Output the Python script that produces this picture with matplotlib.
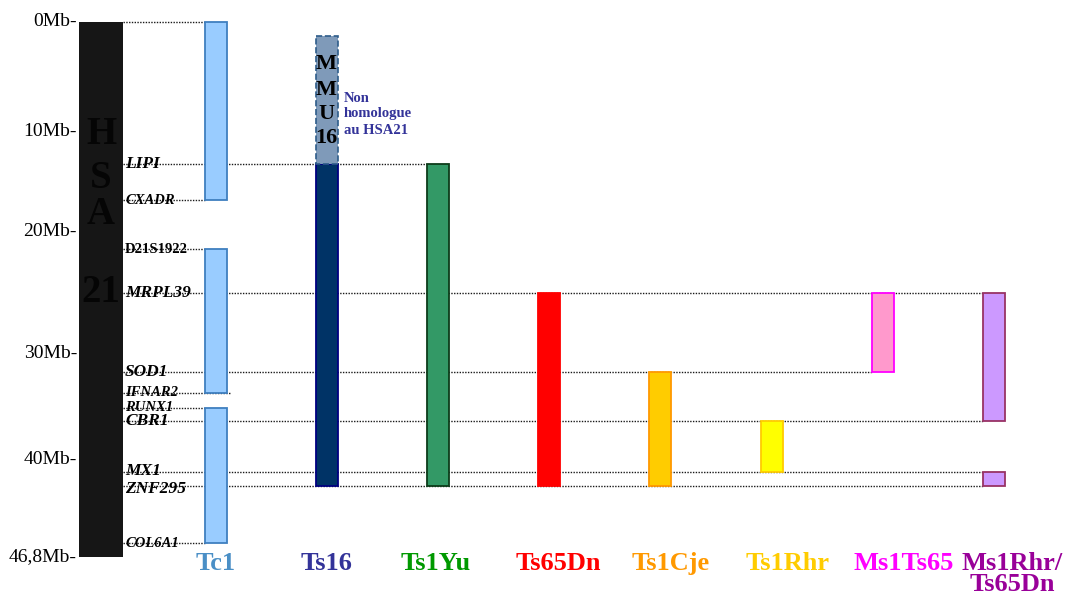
import numpy as np
import matplotlib
matplotlib.use("Agg")
import matplotlib.pyplot as plt
from matplotlib.transforms import blended_transform_factory, offset_copy

plt.rcParams["font.family"] = ["Liberation Serif", "DejaVu Serif"]

W, H = 1078, 599

# ruler of HSA21 (the drawing is not to scale, so keep where each tick sits)
tick_mb = [0, 10, 20, 30, 40, 46.8]
tick_labels = ["0Mb-", "10Mb-", "20Mb-", "30Mb-", "40Mb-", "46,8Mb-"]
tick_px = [22, 132, 232, 354, 459, 557]

# genes along HSA21
genes = ["LIPI", "CXADR", "D21S1922", "MRPL39", "SOD1", "IFNAR2",
         "RUNX1", "CBR1", "MX1", "ZNF295", "COL6A1"]
gene_mb = [13.2, 16.8, 21.4, 25.0, 31.7, 33.7, 35.1, 36.4, 40.9, 41.9, 45.85]
gene_big = [True, False, False, True, True, False, False, True, True, True, False]
gene_italic = [True, True, False, True, True, True, True, True, True, True, True]
gene_line_to = ["Ts1Yu", "Tc1", "Tc1", "Ms1Rhr", "Ms1Ts65", "Tc1>",
                "Tc1", "Ms1Rhr", "Ms1Rhr", "Ms1Rhr", "Tc1"]
gene_dy = [0, 0, 0, 0, 0, 0, 0, 0, 1, -2, 0]   # pt nudges of crowded labels

# mouse models and their trisomic segments (Mb on HSA21)
models = ["Tc1", "Ts16", "Ts1Yu", "Ts65Dn", "Ts1Cje", "Ts1Rhr", "Ms1Ts65", "Ms1Rhr"]
model_labels = ["Tc1", "Ts16", "Ts1Yu", "Ts65Dn", "Ts1Cje", "Ts1Rhr", "Ms1Ts65",
                "Ms1Rhr/\nTs65Dn"]
tc1_seg = [(0, 16.8), (21.4, 33.7), (35.1, 45.85)]
ts16_seg = [(13.2, 41.9)]
ts1yu_seg = [(13.2, 41.9)]
ts65dn_seg = [(25.0, 41.9)]
ts1cje_seg = [(31.7, 41.9)]
ts1rhr_seg = [(36.4, 40.9)]
ms1ts65_seg = [(25.0, 31.7)]
ms1rhr_seg = [(25.0, 36.4), (40.9, 41.9)]
segments = [tc1_seg, ts16_seg, ts1yu_seg, ts65dn_seg, ts1cje_seg,
            ts1rhr_seg, ms1ts65_seg, ms1rhr_seg]
mmu16_seg = (1.3, 13.2)

face_colors = ["#99ccff", "#003366", "#339966", "#ff0000", "#ffcc00",
               "#ffff00", "#ff99cc", "#cc99ff"]
edge_colors = ["#3f7fbf", "#000080", "#0d3d1a", "#ff0000", "#ff9900",
               "#ffcc00", "#ff00ff", "#993366"]
label_colors = ["#4a8fc6", "#333399", "#009900", "#ff0000", "#ff9900",
                "#ffcc00", "#ff00ff", "#990099"]
label_dx = [0, 0, -2, 9, 10, 16, 21, 18]   # px nudges of the bottom labels

# --- piecewise y scale: Mb -> px from top ---
sx = np.array(tick_mb, float)
sp = np.array(tick_px, float)
lo = (sp[1] - sp[0]) / (sx[1] - sx[0])
hi = (sp[-1] - sp[-2]) / (sx[-1] - sx[-2])
ext_mb = np.r_[sx[0] - 1000, sx, sx[-1] + 1000]
ext_px = np.r_[sp[0] - 1000 * lo, sp, sp[-1] + 1000 * hi]


def fwd(v):
    return np.interp(v, ext_mb, ext_px)


def inv(p):
    return np.interp(p, ext_px, ext_mb)


step = 111.21
x0 = 104.3
bw = 22 / step
hsa_w = 44 / step
hsa_x = -3 / step

fig = plt.figure(figsize=(W / 100, H / 100), dpi=100)
ax = fig.add_axes([0, 0, 1, 1])
ax.set_yscale("function", functions=(fwd, inv))
ax.set_ylim(float(inv(H)), float(inv(0)))
ax.set_xlim(-x0 / step, (W - x0) / step)
ax.axis("off")

col = {m: i + 1 for i, m in enumerate(models)}

# HSA21 chromosome
ax.bar(hsa_x, tick_mb[-1], bottom=0, width=hsa_w, color="#161616", zorder=3)

# dotted guide lines
x_start = hsa_x + hsa_w / 2
def line_end(target):
    if target.endswith(">"):
        return col[target[:-1]] + bw / 2 + 3 / step
    return col[target] - bw / 2

dots = dict(colors="#1a1a1a", linestyles=(0, (1, 1)), linewidth=1.0, zorder=1)
ax.hlines(0, x_start, line_end("Tc1"), **dots)
for mb, tgt in zip(gene_mb, gene_line_to):
    ax.hlines(mb, x_start, line_end(tgt), **dots)

# model bars
for i, segs in enumerate(segments):
    for a, b in segs:
        ax.bar(i + 1, b - a, bottom=a, width=bw, color=face_colors[i],
               edgecolor=edge_colors[i], linewidth=1.3, zorder=3)

# non homologous MMU16 part of Ts16
ax.bar(col["Ts16"], mmu16_seg[1] - mmu16_seg[0], bottom=mmu16_seg[0], width=bw,
       color="#7f9ab9", edgecolor="#2e5c8a", linewidth=1.2, linestyle="--", zorder=3)

# ruler labels
tick_x = (77 - x0) / step
for mb, lab in zip(tick_mb, tick_labels):
    ax.text(tick_x, mb, lab, ha="right", va="center", fontsize=14, color="black")

# gene labels
gene_x = (125 - x0) / step
for name, mb, big, it, dy in zip(genes, gene_mb, gene_big, gene_italic, gene_dy):
    ax.text(gene_x, mb, name, ha="left", va="center",
            transform=offset_copy(ax.transData, fig=fig, y=dy, units="points"),
            fontsize=12.5 if big else 10.5, fontweight="bold",
            style="italic" if it else "normal", color="black", zorder=4)

# big letters
def fpx(x, y):
    return x / W, 1 - y / H

for ch, y in zip(["H", "S", "A", "21"], [134, 179, 215, 293]):
    fig.text(*fpx(101, y), ch, ha="center", va="center", fontsize=28,
             fontweight="bold", color="#050505", zorder=5)

for ch, y in zip(["M", "M", "U", "16"], [64, 90, 114, 138]):
    fig.text(*fpx(326, y), ch, ha="center", va="center", fontsize=16,
             fontweight="bold", color="black", zorder=5)

for line, y in zip(["Non", "homologue", "au HSA21"], [99, 114, 130]):
    fig.text(*fpx(344, y), line, ha="left", va="center", fontsize=10.5,
             fontweight="bold", color="#333399")

# model names under the bars
tr = blended_transform_factory(ax.transData, fig.transFigure)
for i, lab in enumerate(model_labels):
    for k, part in enumerate(lab.split("\n")):
        ax.text(i + 1 + label_dx[i] / step, 1 - (570 + 21 * k) / H, part,
                transform=tr, ha="center", va="baseline", fontsize=19,
                fontweight="bold", color=label_colors[i])

fig.savefig("out.png", dpi=100)
plt.close(fig)
